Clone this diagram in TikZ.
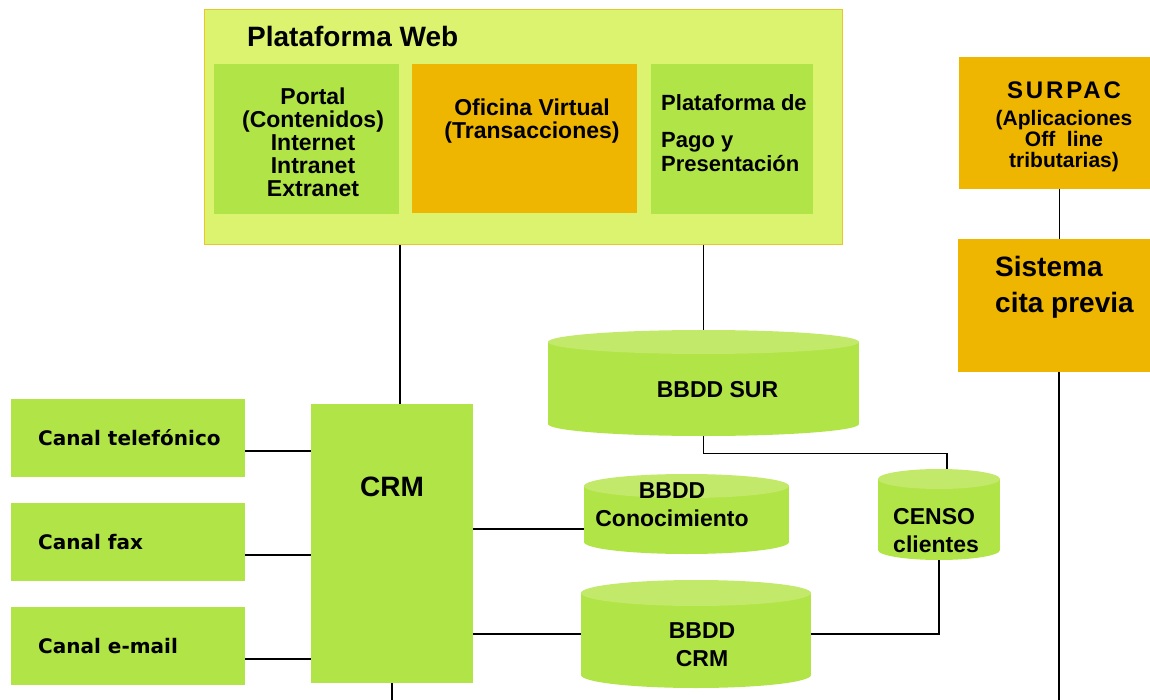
\documentclass[tikz,border=0pt]{standalone}
\usepackage{fontspec}
\setmainfont{Liberation Sans}
\newfontfamily\verd{DejaVu Sans}
\newfontfamily\spaced{Liberation Sans}[LetterSpace=12]
\definecolor{webfill}{RGB}{220,243,111}
\definecolor{webline}{RGB}{232,200,40}
\definecolor{gfill}{RGB}{177,228,70}
\definecolor{gtop}{RGB}{194,233,105}
\definecolor{ofill}{RGB}{238,182,0}
\newcommand\setfs[2]{\fontsize{#1}{#2}\selectfont}
% #1 name, #2 x1, #3 y1, #4 x2, #5 y2, #6 ellipse y radius
\newcommand\dbcyl[6]{%
  \fill[gfill] (#2,#3+#6) rectangle (#4,#5-#6);
  \fill[gfill] ({(#2+#4)/2},#5-#6) ellipse [x radius={(#4-#2)/2}, y radius=#6];
  \fill[gtop] ({(#2+#4)/2},#3+#6) ellipse [x radius={(#4-#2)/2}, y radius=#6];
  \node[inner sep=0, minimum width={#4-#2}, minimum height={#5-#3}] (#1) at ({(#2+#4)/2},{(#3+#5)/2}) {};
}
\begin{document}
\begin{tikzpicture}[x=1pt, y=-1pt, font=\bfseries,
  gbox/.style={fill=gfill, inner sep=0},
  obox/.style={fill=ofill, inner sep=0},
  txt/.style={inner sep=0, text=black},
  conn/.style={draw=black, line width=1.4pt}]
\useasboundingbox (0,0) rectangle (1150,700);
\coordinate (bot) at (0,700);

% Plataforma Web
\node[fill=webfill, draw=webline, line width=1pt, inner sep=0, minimum width=638, minimum height=235] (web) at (523,127.5) {};
\node[txt, anchor=base west, font={\bfseries\setfs{28}{28}}] (webtitle) at (247,47) {Plataforma Web};
\node[gbox, minimum width=185, minimum height=150] (portal) at (306.5,139) {};
\node[txt, align=center, font={\bfseries\setfs{23}{23}}] (portaltxt) at (313,142) {Portal\\(Contenidos)\\Internet\\Intranet\\Extranet};
\node[obox, minimum width=225, minimum height=149] (oficina) at (524.5,138.5) {};
\node[txt, align=center, font={\bfseries\setfs{23}{23}}] (oficinatxt) at (532,121) {Oficina Virtual\\(Transacciones)};
\node[gbox, minimum width=162, minimum height=150] (pago) at (732,139) {};
\node[txt, align=left, anchor=west, font={\bfseries\setfs{22}{24}}] (pagotxt) at (661,133.5) {Plataforma de\\[13pt]Pago y\\Presentación};

% SURPAC and cita previa
\node[obox, minimum width=191, minimum height=132] (surpac) at (1054.5,123) {};
\node[txt, align=center, font={\bfseries\setfs{21}{21}}] (surpactxt) at (1064,126.6) {{\spaced\bfseries\setfs{24}{21}SURPAC}\\[5.5pt](Aplicaciones\\Off\ \ line\\tributarias)};
\node[obox, minimum width=192, minimum height=133] (cita) at (1054,305.5) {};
\node[txt, align=left, anchor=west, font={\bfseries\setfs{28}{36}}] (citatxt) at (995,287.7) {Sistema\\cita previa};

% Channels
\node[gbox, minimum width=234, minimum height=78] (tel) at (128,438) {};
\node[gbox, minimum width=234, minimum height=78] (fax) at (128,542) {};
\node[gbox, minimum width=234, minimum height=78] (email) at (128,646) {};
\tikzset{ctxt/.style={txt, anchor=base west, font={\verd\bfseries\setfs{20}{20}}}}
\node[ctxt] (teltxt) at (38,445.3) {Canal telefónico};
\node[ctxt] (faxtxt) at (38,549.3) {Canal fax};
\node[ctxt] (emailtxt) at (38,653.3) {Canal e-mail};

% CRM
\node[gbox, minimum width=162, minimum height=279] (crm) at (392,543.5) {};
\node[txt, font={\bfseries\setfs{28}{28}}] (crmtxt) at (392,487) {CRM};

% Databases
\tikzset{dbtxt/.style={txt, font={\bfseries\setfs{23}{28}}}}
\dbcyl{sur}{548}{330}{859}{436}{12}
\node[dbtxt] (surtxt) at (717.5,390) {BBDD SUR};
\dbcyl{conoc}{584}{474}{789}{554}{12}
\node[dbtxt, align=center] (conoctxt) at (672,505) {BBDD\\Conocimiento};
\dbcyl{censo}{878}{469}{1000}{560}{10}
\node[dbtxt, align=left, anchor=west] (censotxt) at (893,531) {CENSO\\clientes};
\dbcyl{bcrm}{581}{580}{811}{688}{13}
\node[dbtxt, align=center] (bcrmtxt) at (702,645) {BBDD\\CRM};

% Connectors
\draw[conn] (crm.north) ++(8,0) coordinate (c1) -- (c1 |- web.south);
\draw[conn] (sur.north) -- (sur.north |- web.south);
\draw[conn] (sur.south) -- ++(0,17) -| ([xshift=8pt]censo.north);
\draw[conn] (censo.south) |- (bcrm.east);
\draw[conn] (conoc.west) ++(0,15) coordinate (k1) -- (k1 -| crm.east);
\draw[conn] (bcrm.west) -- (bcrm.west -| crm.east);
\draw[conn] (tel.east) ++(0,13) coordinate (t1) -- (t1 -| crm.west);
\draw[conn] (fax.east) ++(0,13) coordinate (t2) -- (t2 -| crm.west);
\draw[conn] (email.east) ++(0,13) coordinate (t3) -- (t3 -| crm.west);
\draw[conn] (surpac.south) ++(5,0) coordinate (s1) -- (s1 |- cita.north);
\draw[conn] (cita.south) ++(5,0) coordinate (s2) -- (s2 |- bot);
\draw[conn] (crm.south) -- (crm.south |- bot);
\end{tikzpicture}
\end{document}
